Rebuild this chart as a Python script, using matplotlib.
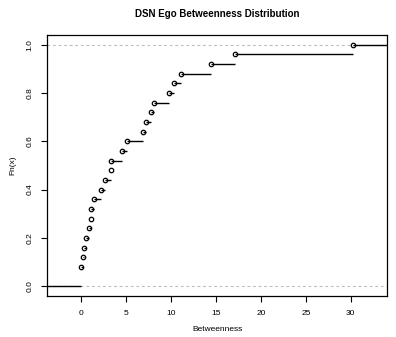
import numpy as np
import matplotlib
matplotlib.use("Agg")
import matplotlib.pyplot as plt

plt.rcParams['font.family'] = ['Liberation Sans', 'DejaVu Sans']

# betweenness values of the egos
betweenness = [0, 0, 0.15, 0.26, 0.48, 0.85, 1.04, 1.07, 1.37, 2.2, 2.67, 3.26,
               3.33, 4.48, 5.1, 6.85, 7.19, 7.78, 8.04, 9.78, 10.3, 11.07,
               14.4, 17.1, 30.2]
x_ticks = [0, 5, 10, 15, 20, 25, 30]
y_ticks = [0.0, 0.2, 0.4, 0.6, 0.8, 1.0]

vals = np.sort(np.array(betweenness, dtype=float))
knots = np.unique(vals)
n = len(vals)
Fn = np.array([np.sum(vals <= k) for k in knots]) / n

# R-style limits for plot.stepfun
dr = knots.max() - knots.min()
xlo, xhi = knots.min() - 0.08 * dr, knots.max() + 0.08 * dr
ext = 0.04 * (xhi - xlo)
xlim = (xlo - ext, xhi + ext)

fig = plt.figure(figsize=(3.96, 3.37), dpi=100)
ax = fig.add_axes([0.119, 0.122, 0.858, 0.774])

ax.axhline(0, color='#bebebe', ls=(0, (2.5, 2.5)), lw=0.8, zorder=1)
ax.axhline(1, color='#bebebe', ls=(0, (2.5, 2.5)), lw=0.8, zorder=1)

# horizontal steps
left_x = np.concatenate([[xlim[0]], knots])
right_x = np.concatenate([knots, [xlim[1]]])
levels = np.concatenate([[0], Fn])
ax.hlines(levels, left_x, right_x, colors='black', lw=1.0, zorder=2)
ax.plot(knots, Fn, 'o', mfc='none', mec='black', ms=3.2, mew=0.9, zorder=3)

ax.set_xlim(*xlim)
ax.set_ylim(-0.04, 1.04)
ax.set_xticks(x_ticks)
ax.set_yticks(y_ticks)
ax.set_yticklabels([f"{t:.1f}" for t in y_ticks], rotation=90, va='center')
ax.tick_params(labelsize=6, length=4, width=0.8, pad=6)
for s in ax.spines.values():
    s.set_linewidth(0.9)

ax.set_xlabel('Betweenness', fontsize=6, labelpad=7)
ax.set_ylabel('Fn(x)', fontsize=6, labelpad=7)
ax.set_title('DSN Ego Betweenness Distribution', fontsize=7, fontweight='bold', pad=13)

fig.savefig('out.png', dpi=100)
